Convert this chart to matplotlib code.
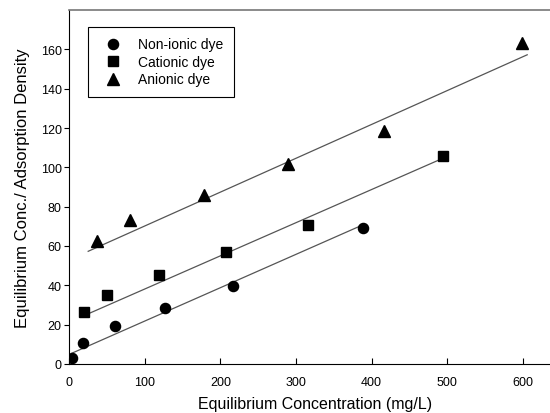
import numpy as np
import matplotlib.pyplot as plt

plt.rcParams['font.family'] = ['Liberation Sans', 'DejaVu Sans']

# equilibrium concentration (mg/L) and Ce/qe for each dye
x_nonionic = [3, 18, 60, 126, 216, 389]
y_nonionic = [3.2, 10.6, 19.1, 28.5, 39.8, 68.9]

x_cationic = [20, 50, 119, 208, 316, 494]
y_cationic = [26.5, 35.3, 45.2, 56.9, 70.9, 106.0]

x_anionic = [36, 80, 178, 289, 416, 599]
y_anionic = [62.4, 73.4, 86.0, 101.6, 118.5, 163.2]

# linear fits as drawn: (intercept, slope, x start, x end)
fit_nonionic = (4.9, 0.1695, 3, 389)
fit_cationic = (21.3, 0.1685, 20, 494)
fit_anionic = (53.0, 0.172, 25, 606)

fig = plt.figure(figsize=(5.5, 4.14), dpi=100)
# the plot frame runs past the right edge of the picture
ax = fig.add_axes([0.126, 0.1184, 0.893, 0.855])

for fit in (fit_nonionic, fit_cationic, fit_anionic):
    b, m, x0, x1 = fit
    xs = np.array([x0, x1])
    ax.plot(xs, b + m * xs, color='#555555', lw=0.9, zorder=2)

ax.plot(x_nonionic, y_nonionic, 'o', color='black', ms=7.3, label='Non-ionic dye', zorder=3)
ax.plot(x_cationic, y_cationic, 's', color='black', ms=6.6, label='Cationic dye', zorder=3)
ax.plot(x_anionic, y_anionic, '^', color='black', ms=8, label='Anionic dye', zorder=3)

ax.set_xlim(0, 650)
ax.set_ylim(0, 180)
ax.set_xticks([0, 100, 200, 300, 400, 500, 600])
ax.set_yticks([0, 20, 40, 60, 80, 100, 120, 140, 160])
ax.tick_params(axis='x', direction='in', labelsize=9, length=4, pad=8.5)
ax.tick_params(axis='y', direction='out', labelsize=9, length=3.6, pad=1.8)
ax.spines['right'].set_visible(False)
ax.spines['top'].set_color('#777777')
ax.spines['top'].set_linewidth(1.2)

ax.set_xlabel('Equilibrium Concentration (mg/L)', fontsize=11.5, labelpad=6)
ax.set_ylabel('Equilibrium Conc./ Adsorption Density', fontsize=12, labelpad=8)

leg = ax.legend(loc='upper left', bbox_to_anchor=(0.0387, 0.952), fontsize=10,
                fancybox=False, edgecolor='black', framealpha=1,
                borderaxespad=0, borderpad=0.75, handletextpad=0.75,
                labelspacing=0.25, handlelength=2.1)
leg.get_frame().set_linewidth(0.8)

fig.savefig('out.png', dpi=100)
